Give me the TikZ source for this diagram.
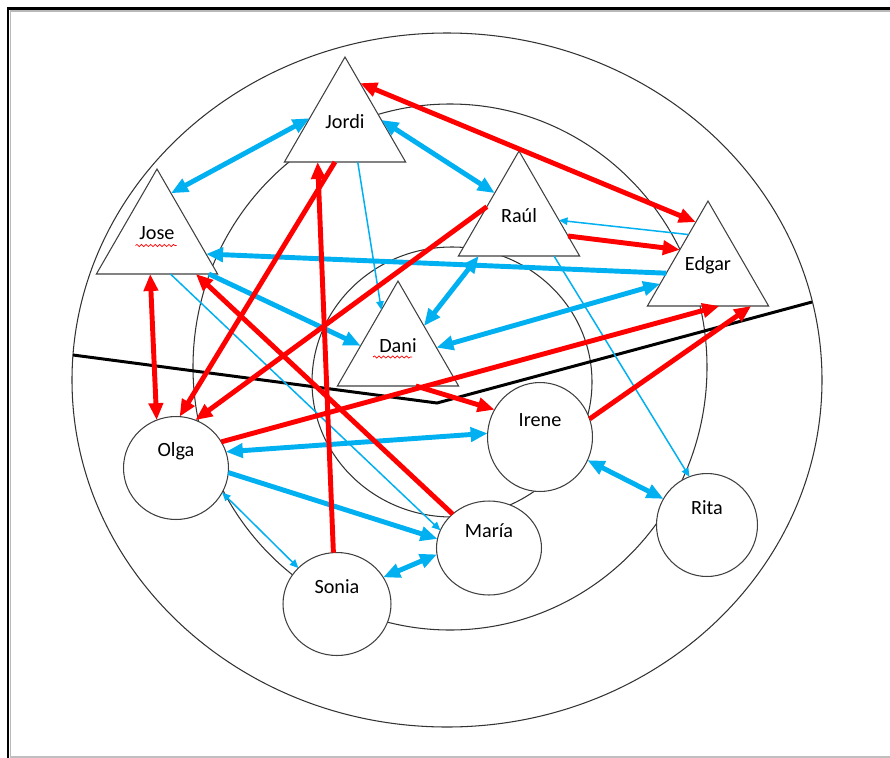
\documentclass[tikz,border=0pt]{standalone}
\usepackage{fontspec}
\setmainfont{Carlito}
\usepackage{xcolor}
\usetikzlibrary{shapes,shapes.geometric,positioning,arrows.meta,decorations.pathmorphing}
\definecolor{tieblue}{RGB}{0,176,240}
\definecolor{tiered}{RGB}{255,0,0}

\begin{document}
\begin{tikzpicture}[
    x=0.02cm, y=-0.02cm,
    outer sep=0pt,
    boy/.style={draw=black!75, fill=white, regular polygon, regular polygon sides=3, minimum size=2.8cm, inner sep=0pt, line width=0.6pt, label={[yshift=0.11cm, font=\fontsize{11.5}{13}\selectfont]center:#1}},
    girl/.style={draw=black!75, fill=white, ellipse, minimum width=2.1cm, minimum height=2.06cm, inner sep=0pt, line width=0.6pt, label={[yshift=0.34cm, font=\fontsize{11.5}{13}\selectfont]center:#1}},
    ring/.style={draw=black!80, line width=0.6pt},
    blueline/.style={draw=tieblue, line width=2.8pt, >={Triangle[length=0.34cm,width=0.28cm]}},
    bluethin/.style={draw=tieblue, line width=0.85pt, >={Triangle[length=0.17cm,width=0.15cm]}},
    redline/.style={draw=tiered, line width=2.8pt, >={Triangle[length=0.34cm,width=0.28cm]}},
    squiggle/.style={draw=tiered, line width=0.4pt, decorate, decoration={snake, amplitude=0.6pt, segment length=2.6pt}}
]
    \useasboundingbox (0,0) rectangle (890,758);
    % page frame
    \draw[gray!55, line width=1.1pt] (10.5,758) -- (10.5,11) -- (890,11);
    \draw[gray!50, line width=1.1pt] (10,757) -- (890,757);
    \draw[black, line width=1.4pt] (8,758) -- (8,8.5) -- (890,8.5);

    % rings
    \draw[ring] (447,380) ellipse [x radius=375, y radius=347];
    \draw[ring] (450,367) ellipse [x radius=257, y radius=263];
    \draw[ring] (452,382) ellipse [x radius=140, y radius=135];
    \draw[black, line width=1.7pt] (73,355) -- (437,403) -- (812,302);

    % boys
    \node [boy=Jordi] (jordi) at (345,127) {};
    \node [boy=Jose] (jose) at (157,239) {};
    \node [boy=Raúl] (raul) at (519,221) {};
    \node [boy=Edgar] (edgar) at (708,271) {};
    \node [boy=Dani] (dani) at (398,351) {};
    \draw[squiggle] ([xshift=-0.43cm,yshift=-0.13cm]jose.center) -- ++(41,0);
    \draw[squiggle] ([xshift=-0.5cm,yshift=-0.12cm]dani.center) -- ++(39,0);

    % girls
    \node [girl=Olga] (olga) at (176,468) {};
    \node [girl=Sonia, minimum width=2.16cm] (sonia) at (337,604) {};
    \node [girl=María, minimum height=1.88cm] (maria) at (489,548) {};
    \node [girl=Irene, minimum height=2.18cm] (irene) at (540,437) {};
    \node [girl=Rita, minimum width=2.02cm] (rita) at (707,525) {};

    % blue ties
    \draw[blueline, <->] (jose.73) -- (jordi.166);
    \draw[blueline, <->] (jordi.11) -- (raul.131);
    \draw[blueline, ->] (edgar.183) -- (jose.-17);
    \draw[blueline, ->] (jose.-34) -- (dani.172);
    \draw[blueline, <->] (raul.221) -- (dani.44);
    \draw[blueline, <->] (edgar.195) -- (dani.5);
    \draw[blueline, <->] (olga.18) -- (irene.176);
    \draw[blueline, ->] (olga.-5) -- (maria.170);
    \draw[blueline, <->] (sonia.30) -- (maria.187);
    \draw[blueline, <->] (irene.-26) -- (rita.149);
    \draw[bluethin, ->] (jordi.-70) -- (dani.112);
    \draw[bluethin, ->] (edgar.118) -- (raul.1);
    \draw[bluethin, ->] (raul.-45) -- (rita.110);
    \draw[bluethin, ->] (jose.-69) -- (maria.160);
    \draw[bluethin, <->] (olga.-28) -- (sonia.137);

    % red ties
    \draw[redline, <->] (jordi.71) -- (edgar.104);
    \draw[redline, ->] (raul.-17) -- (edgar.143);
    \draw[redline, <->] (jose.259) -- (olga.112);
    \draw[redline, ->] (jordi.254) -- (olga.86);
    \draw[redline, ->] (raul.156) -- (olga.68);
    \draw[redline, ->] (sonia.94) -- (jordi.232);
    \draw[redline, ->] (maria.137) -- (jose.-42);
    \draw[redline, ->] (dani.-63) -- (irene.149);
    \draw[redline, ->] (olga.30) -- (edgar.-72);
    \draw[redline, ->] (irene.20) -- (edgar.-39);
\end{tikzpicture}
\end{document}
